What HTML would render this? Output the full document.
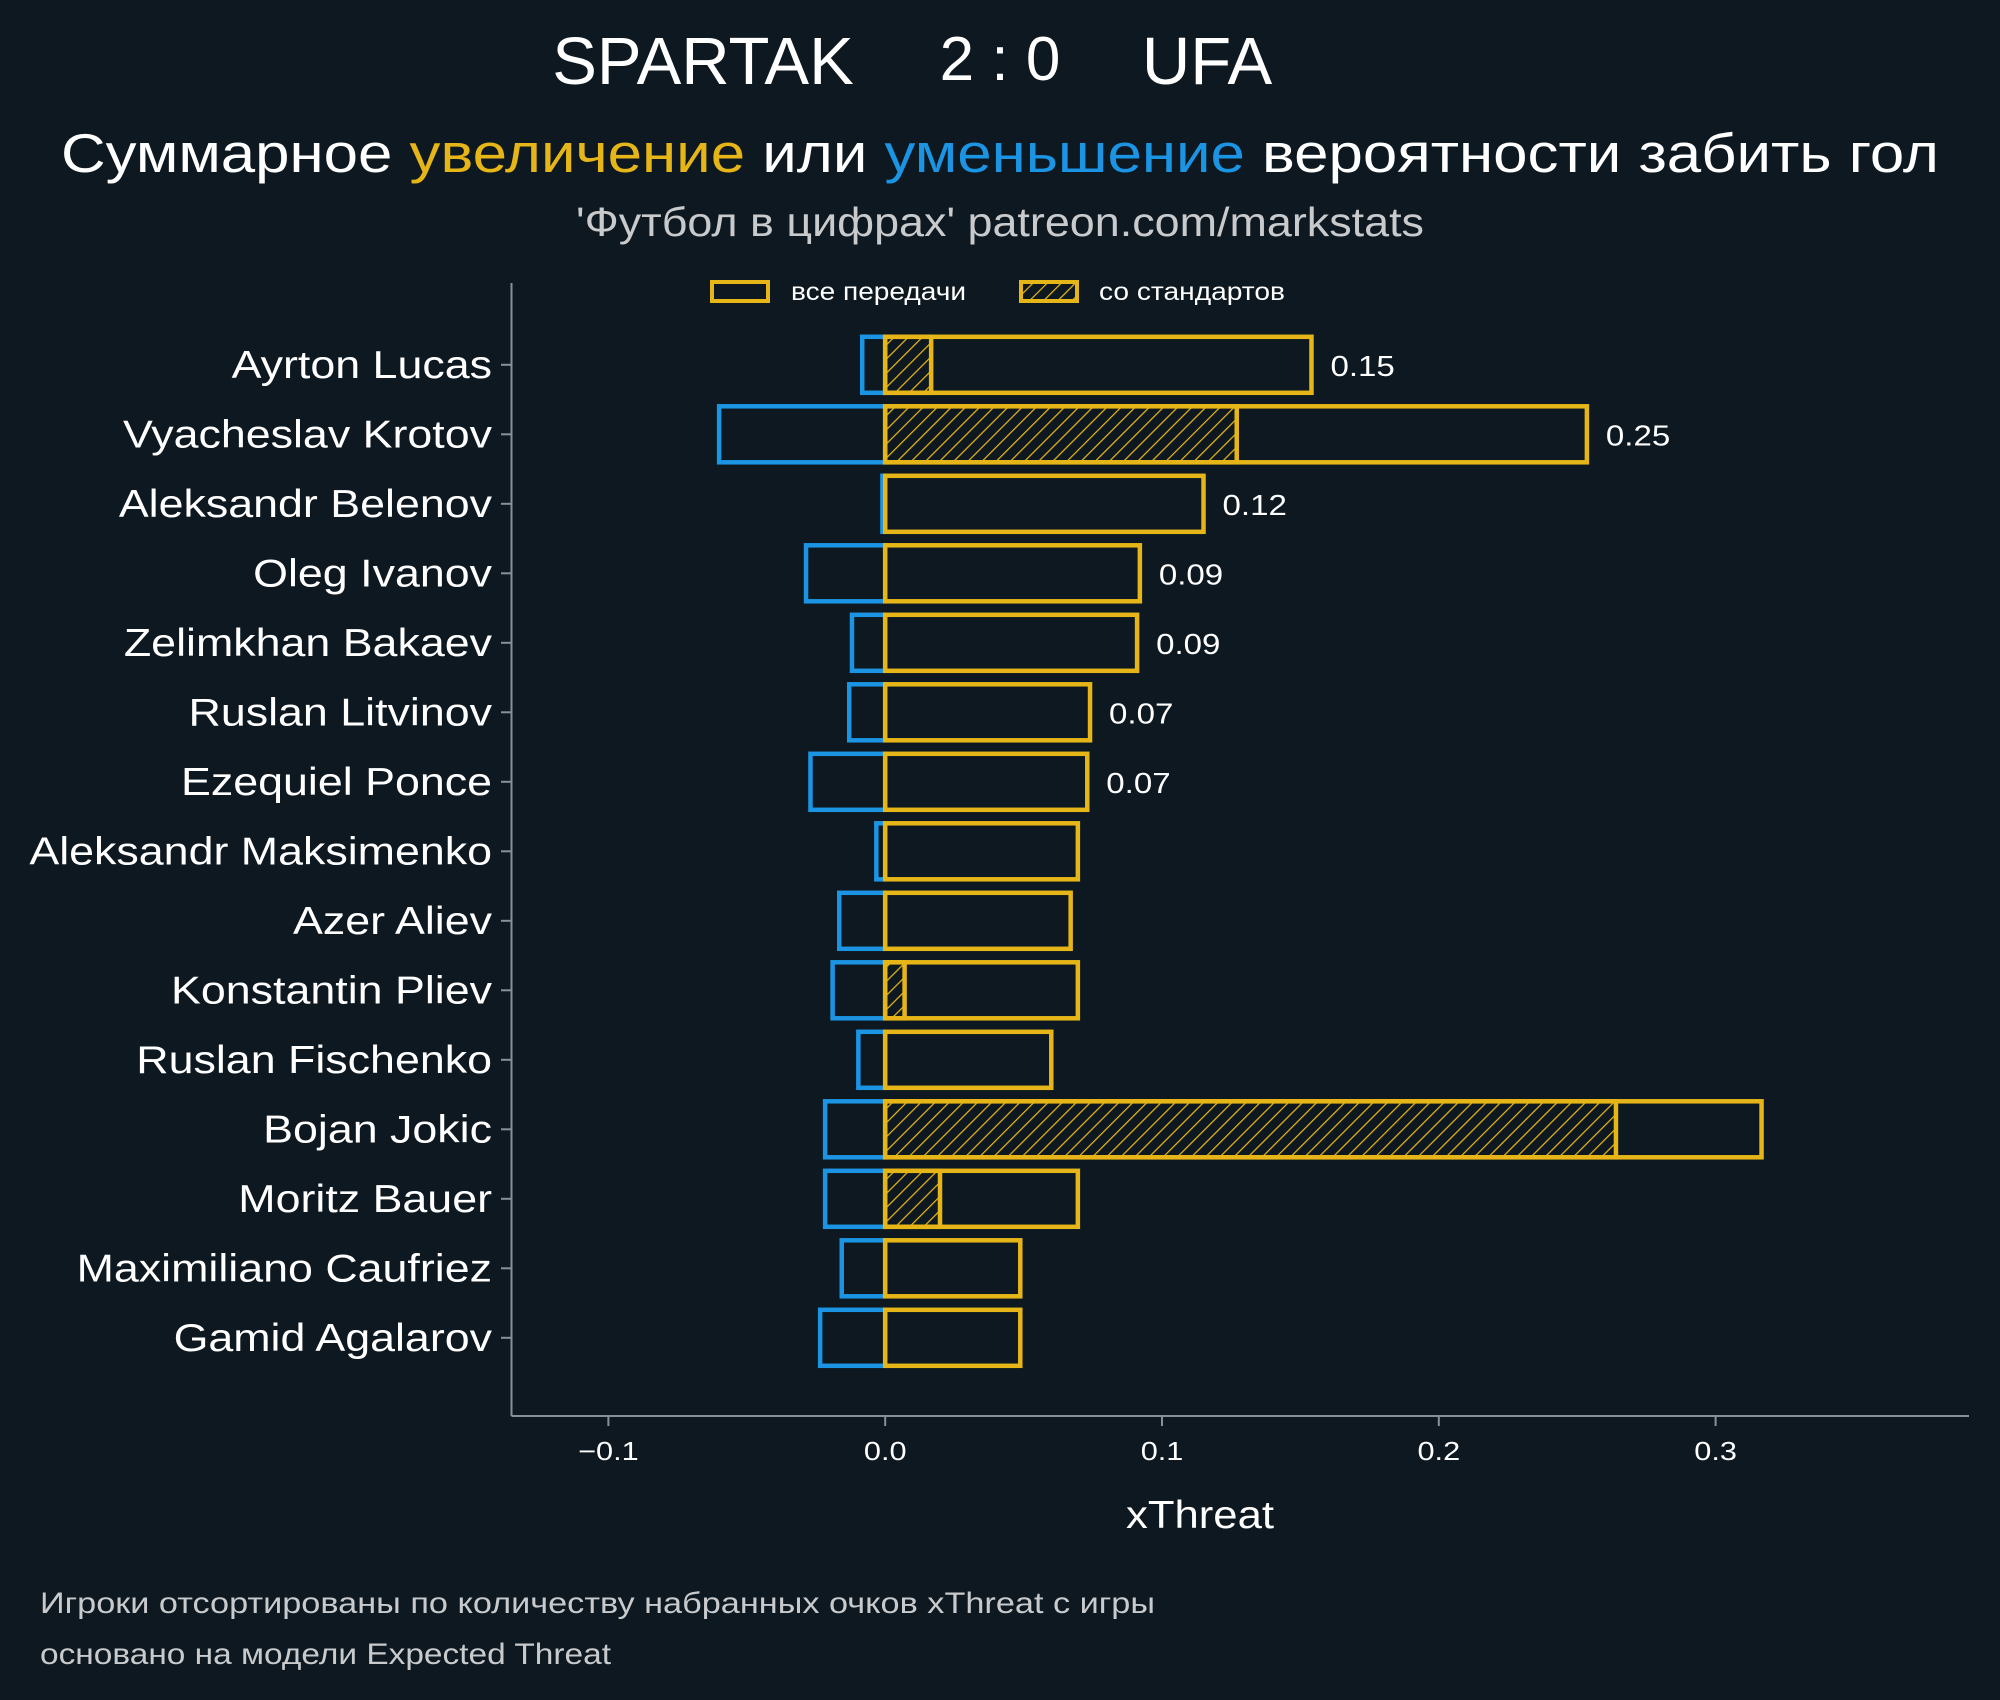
<!DOCTYPE html>
<html><head><meta charset="utf-8">
<style>
html,body{margin:0;padding:0;background:#0d1821;}
svg{display:block;font-family:"Liberation Sans","DejaVu Sans",sans-serif;}
</style></head>
<body>
<svg id="chart" width="2000" height="1700" viewBox="0 0 2000 1700">
<defs>
<pattern id="hatch" patternUnits="userSpaceOnUse" width="10" height="10" patternTransform="rotate(45)">
<line x1="0" y1="0" x2="0" y2="10" stroke="#e6b517" stroke-width="2.5"/>
</pattern>
</defs>
<rect x="0" y="0" width="2000" height="1700" fill="#0d1821"/>
<text x="703" y="84" fill="#ffffff" font-size="67" text-anchor="middle">SPARTAK</text>
<text x="1000" y="80" fill="#ffffff" font-size="62" text-anchor="middle">2 : 0</text>
<text x="1207" y="84" fill="#ffffff" font-size="67" text-anchor="middle">UFA</text>
<text x="1000" y="172" fill="#ffffff" font-size="55" text-anchor="middle" textLength="1878" lengthAdjust="spacingAndGlyphs">Суммарное <tspan fill="#e6b517">увеличение</tspan> или <tspan fill="#1c94e4">уменьшение</tspan> вероятности забить гол</text>
<text x="1000" y="236" fill="#c8cacc" font-size="41" text-anchor="middle" textLength="848" lengthAdjust="spacingAndGlyphs">'Футбол в цифрах' patreon.com/markstats</text>
<g>
<rect x="712" y="282" width="56" height="19" fill="none" stroke="#e6b517" stroke-width="4"/>
<text x="791" y="300" fill="#ffffff" font-size="25" textLength="175" lengthAdjust="spacingAndGlyphs">все передачи</text>
<rect x="1021" y="282" width="56" height="19" fill="url(#hatch)" stroke="#e6b517" stroke-width="4"/>
<text x="1099" y="300" fill="#ffffff" font-size="25" textLength="186" lengthAdjust="spacingAndGlyphs">со стандартов</text>
</g>
<g id="plot"></g>
<text x="40" y="1613" fill="#c8cacc" font-size="30" textLength="1115" lengthAdjust="spacingAndGlyphs">Игроки отсортированы по количеству набранных очков xThreat с игры</text>
<text x="40" y="1664" fill="#c8cacc" font-size="30" textLength="571" lengthAdjust="spacingAndGlyphs">основано на модели Expected Threat</text>
</svg>
<script>
const players = ["Ayrton Lucas","Vyacheslav Krotov","Aleksandr Belenov","Oleg Ivanov","Zelimkhan Bakaev","Ruslan Litvinov","Ezequiel Ponce","Aleksandr Maksimenko","Azer Aliev","Konstantin Pliev","Ruslan Fischenko","Bojan Jokic","Moritz Bauer","Maximiliano Caufriez","Gamid Agalarov"];
const positive = [0.154,0.2535,0.115,0.092,0.091,0.074,0.073,0.0696,0.067,0.0696,0.060,0.3166,0.0696,0.0488,0.0488];
const negative = [-0.0083,-0.060,-0.001,-0.0286,-0.012,-0.013,-0.027,-0.0032,-0.0166,-0.019,-0.0097,-0.0217,-0.0217,-0.0157,-0.0235];
const setPieces = [0.0166,0.127,0,0,0,0,0,0,0,0.007,0,0.264,0.0198,0,0];
const valueLabels = ["0.15","0.25","0.12","0.09","0.09","0.07","0.07","","","","","","","",""];
const xTicks = [-0.1,0,0.1,0.2,0.3];
const xTickLabels = ["−0.1","0.0","0.1","0.2","0.3"];

const NS="http://www.w3.org/2000/svg";
const g=document.getElementById('plot');
const X0=885.2, XS=2768;
const xs=v=>X0+v*XS;
const ys=i=>364.8+i*69.5;
const BH=56;
function mk(tag,attrs){const e=document.createElementNS(NS,tag);for(const k in attrs)e.setAttribute(k,attrs[k]);g.appendChild(e);return e;}

let e;
e=mk('line',{x1:511.5,y1:283,x2:511.5,y2:1416,stroke:'#8a9097','stroke-width':2});


e=mk('line',{x1:511.5,y1:1416,x2:1969,y2:1416,stroke:'#8a9097','stroke-width':2});



xTicks.forEach((t,i)=>{
  e=mk('line',{x1:xs(t),y1:1416,x2:xs(t),y2:1426,stroke:'#8a9097','stroke-width':2});
  
  
  e=mk('text',{x:0,y:0,transform:`translate(${xs(t)},1460) scale(1.18,1)`,fill:'#ffffff','font-size':26,'text-anchor':'middle'});
  e.textContent=xTickLabels[i];
  
  
});
e=mk('text',{x:1200,y:1528,fill:'#ffffff','font-size':39,'text-anchor':'middle',textLength:148,lengthAdjust:'spacingAndGlyphs'});
e.textContent='xThreat';



players.forEach((p,i)=>{
  const y=ys(i);
  e=mk('line',{x1:501,y1:y,x2:511.5,y2:y,stroke:'#8a9097','stroke-width':2});
  
  
  e=mk('text',{x:0,y:0,transform:`translate(492,${y+13}) scale(1.148,1)`,fill:'#ffffff','font-size':39,'text-anchor':'end'});
  e.textContent=p;
  
  
  e=mk('rect',{x:xs(negative[i]),y:y-BH/2,width:xs(0)-xs(negative[i]),height:BH,fill:'none',stroke:'#1c94e4','stroke-width':4.5});
  
  
  if(setPieces[i]>0){
    e=mk('rect',{x:xs(0),y:y-BH/2,width:xs(setPieces[i])-xs(0),height:BH,fill:'url(#hatch)',stroke:'#e6b517','stroke-width':4.5});
    
    
  }
  e=mk('rect',{x:xs(0),y:y-BH/2,width:xs(positive[i])-xs(0),height:BH,fill:'none',stroke:'#e6b517','stroke-width':4.5});
  
  
  if(valueLabels[i]){
    e=mk('text',{x:0,y:0,transform:`translate(${xs(positive[i])+19},${y+11}) scale(1.14,1)`,fill:'#ffffff','font-size':29});
    e.textContent=valueLabels[i];
    
    
  }
});
</script>
</body></html>
